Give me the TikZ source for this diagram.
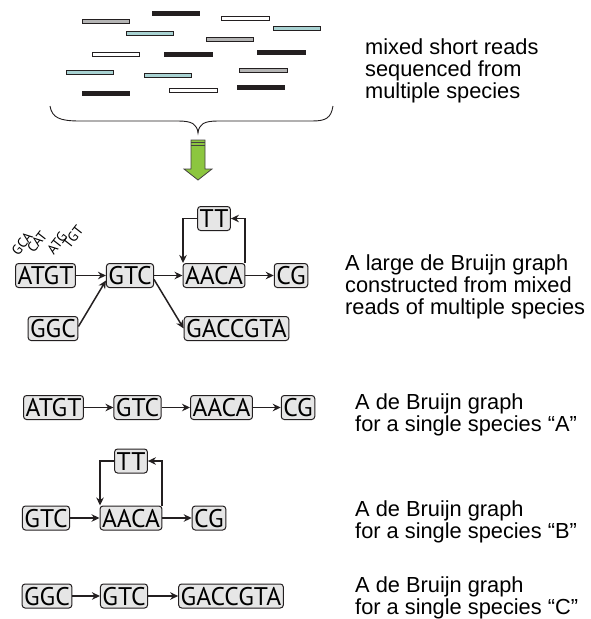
\documentclass[tikz,border=0pt]{standalone}
\usepackage{fontspec}
\setmainfont{Liberation Sans}
\newfontfamily\nodefont{PT Sans}
\usetikzlibrary{arrows.meta}
\definecolor{ink}{HTML}{231F20}
\definecolor{boxfill}{HTML}{E6E6E6}
\definecolor{readgray}{HTML}{B4B4B4}
\definecolor{readblue}{HTML}{A8D2D2}
\definecolor{arrgreen}{HTML}{8CC63F}
\begin{document}
\begin{tikzpicture}[x=1pt,y=-1pt,
  dbn/.style={draw=ink, fill=boxfill, line width=1pt, rounded corners=3pt,
    font=\nodefont\fontsize{25.5}{26}\selectfont, minimum height=24pt,
    inner xsep=2pt, inner ysep=0pt, text height=18pt, text depth=0pt},
  edge/.style={draw=ink, line width=1.5pt, -{Stealth[length=8pt,width=7.5pt]}},
  kmer/.style={font=\nodefont\fontsize{14}{14}\selectfont, rotate=52, inner sep=0pt},
  desc/.style={font=\fontsize{21.8}{21.7}\selectfont, align=left, anchor=base west, inner sep=0pt},
  read/.style={draw=ink, line width=0.8pt}]
\useasboundingbox (0,0) rectangle (590,619);

% short reads
\def\bh{1.9}
\filldraw[read, fill=readgray]  (82,21-\bh) rectangle (129,21+\bh);
\filldraw[read, fill=ink]       (152,13-\bh) rectangle (199,13+\bh);
\filldraw[read, fill=white]     (221,18-\bh) rectangle (269,18+\bh);
\filldraw[read, fill=readblue]  (273,28-\bh) rectangle (320,28+\bh);
\filldraw[read, fill=readblue]  (126,33-\bh) rectangle (173,33+\bh);
\filldraw[read, fill=readgray]  (206,39-\bh) rectangle (253,39+\bh);
\filldraw[read, fill=white]     (92,54-\bh) rectangle (139,54+\bh);
\filldraw[read, fill=ink]       (164,54-\bh) rectangle (212,54+\bh);
\filldraw[read, fill=ink]       (257,52-\bh) rectangle (305,52+\bh);
\filldraw[read, fill=readblue]  (66,72-\bh) rectangle (113,72+\bh);
\filldraw[read, fill=readblue]  (144,75-\bh) rectangle (191,75+\bh);
\filldraw[read, fill=readgray]  (239,70-\bh) rectangle (287,70+\bh);
\filldraw[read, fill=ink]       (82,93-\bh) rectangle (129,93+\bh);
\filldraw[read, fill=white]     (169,90-\bh) rectangle (217,90+\bh);
\filldraw[read, fill=ink]       (237,87-\bh) rectangle (284,87+\bh);

% brace
\draw[ink, line width=0.9pt] (50,106) .. controls (52,118) and (60,121) .. (80,121) -- (178,121)
  .. controls (192,121) and (197,124) .. (198,133)
  .. controls (199,124) and (204,121) .. (218,121) -- (312,121)
  .. controls (326,121) and (331,118) .. (333,106);

% green arrow
\filldraw[draw=ink!85, fill=arrgreen, line width=0.8pt]
  (191,140) -- (205,140) -- (205,169) -- (212,169) -- (198,180) -- (184,169) -- (191,169) -- cycle;
\draw[ink!85, line width=0.8pt] (191,142.6) -- (205,142.6) (191,145.2) -- (205,145.2);

\node[desc] (t1) at (365,98) {mixed short reads\\sequenced from\\multiple species};

% large graph
\node[dbn] (atgt1) at (45.5,275.5) {ATGT};
\node[dbn] (gtc1) at (130,275.5) {GTC};
\node[dbn] (aaca1) at (214,275.5) {AACA};
\node[dbn] (cg1) at (291,275.5) {CG};
\node[dbn] (tt1) at (214,218.5) {TT};
\node[dbn] (ggc1) at (53,328.5) {GGC};
\node[dbn] (gac1) at (236.5,328.5) {GACCGTA};
\node[kmer] (k1) at (22,244) {GCA};
\node[kmer] (k2) at (37,242) {CAT};
\node[kmer] (k3) at (57,243) {ATG};
\node[kmer] (k4) at (73,237) {TGT};
\draw[edge] (atgt1) -- (gtc1);
\draw[edge] ([yshift=2pt]ggc1.east) -- ([yshift=-5pt]gtc1.west);
\draw[edge] (gtc1) -- (aaca1);
\draw[edge] ([yshift=-4pt]gtc1.east) -- (gac1.west);
\draw[edge] (aaca1) -- (cg1);
\draw[edge] ([xshift=-0.5pt]aaca1.north east) |- (tt1.east);
\draw[edge] (tt1.west) -| ([xshift=0.5pt]aaca1.north west);
\node[desc] (t2) at (345,314) {A large de Bruijn graph\\constructed from mixed\\reads of multiple species};

% species A
\node[dbn] (atgt2) at (53.5,407.5) {ATGT};
\node[dbn] (gtc2) at (137.5,407.5) {GTC};
\node[dbn] (aaca2) at (221.5,407.5) {AACA};
\node[dbn] (cg2) at (298,407.5) {CG};
\draw[edge] (atgt2) -- (gtc2);
\draw[edge] (gtc2) -- (aaca2);
\draw[edge] (aaca2) -- (cg2);
\node[desc] (t3) at (355,431.5) {A de Bruijn graph\\for a single species “A”};

% species B
\node[dbn] (tt3) at (131,461) {TT};
\node[dbn] (gtc3) at (46,518) {GTC};
\node[dbn] (aaca3) at (131,518) {AACA};
\node[dbn] (cg3) at (209,518) {CG};
\draw[edge] (gtc3) -- (aaca3);
\draw[edge] (aaca3) -- (cg3);
\draw[edge] ([xshift=-0.5pt]aaca3.north east) |- (tt3.east);
\draw[edge] (tt3.west) -| ([xshift=0.5pt]aaca3.north west);
\node[desc] (t4) at (355,538) {A de Bruijn graph\\for a single species “B”};

% species C
\node[dbn] (ggc4) at (47,596) {GGC};
\node[dbn] (gtc4) at (124,596) {GTC};
\node[dbn] (gac4) at (231,596) {GACCGTA};
\draw[edge] (ggc4) -- (gtc4);
\draw[edge] (gtc4) -- (gac4);
\node[desc] (t5) at (355,614.5) {A de Bruijn graph\\for a single species “C”};
\end{tikzpicture}
\end{document}
